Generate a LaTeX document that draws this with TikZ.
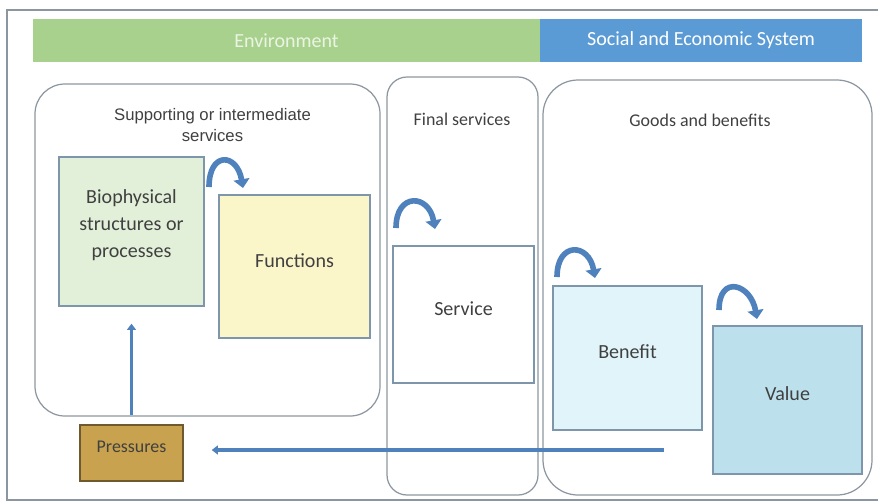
\documentclass[tikz,border=0pt]{standalone}
\usepackage{fontspec}
\setmainfont{Carlito}
\newfontfamily\arialfont{Liberation Sans}
\usetikzlibrary{arrows.meta}

\definecolor{envgreen}{HTML}{A9D18E}
\definecolor{envtext}{HTML}{EAF4E2}
\definecolor{socblue}{HTML}{5B9BD5}
\definecolor{arrowblue}{HTML}{4F81BD}
\definecolor{frameline}{HTML}{8C96A0}
\definecolor{boxedge}{HTML}{7E96AB}
\definecolor{txt}{HTML}{404040}
\definecolor{biofill}{HTML}{E2EFD9}
\definecolor{funfill}{HTML}{FBF5CA}
\definecolor{benfill}{HTML}{E1F4F9}
\definecolor{valfill}{HTML}{BDE1EC}
\definecolor{pressfill}{HTML}{C8A24E}
\definecolor{pressedge}{HTML}{6E5A2E}

\newcommand{\boxfont}{\fontsize{11.4}{15.4}\selectfont}
\newcommand{\headfont}{\fontsize{10.2}{12}\selectfont}

\begin{document}
\begin{tikzpicture}[
  band/.style={minimum height=0.86cm, inner sep=0pt, font=\boxfont},
  group/.style={draw=frameline, line width=0.7pt, inner sep=0pt},
  sq/.style={draw=boxedge, line width=0.8pt, inner sep=0pt},
  boxtxt/.style={font=\boxfont, text=txt, align=center, yshift=0.12cm},
  head/.style={font=\headfont, text=txt, align=center},
  curv/.style={arrowblue, line width=3.2pt,
               -{Triangle[width=9pt,length=5pt]}},
  flow/.style={arrowblue, line width=2.2pt,
               -{Triangle[width=5pt,length=3.5pt]}}
]
\useasboundingbox (0,0) rectangle (17.56,10.06);
\draw[frameline, line width=0.8pt]
  (17.7,9.86) -- (0.14,9.86) -- (0.14,0.06) -- (17.7,0.06);

% top band
\node[band, fill=envgreen, minimum width=10.14cm, text=envtext]
  (env) at (5.73,9.25) {Environment};
\node[band, fill=socblue, minimum width=6.44cm, text=white]
  (soc) at (14.02,9.25) {Social and Economic System};

% groups
\node[group, rounded corners=0.6cm, minimum width=6.9cm, minimum height=6.64cm]
  (support) at (4.15,5.06) {};
\node[group, rounded corners=0.4cm, minimum width=3.02cm, minimum height=8.36cm]
  (final) at (9.25,4.34) {};
\node[group, rounded corners=0.7cm, minimum width=6.58cm, minimum height=8.3cm]
  (goods) at (14.15,4.31) {};
\node[font=\arialfont\fontsize{9.5}{11.95}\selectfont, text=txt, align=center]
  at (4.25,7.56) {Supporting or intermediate\\services};
\node[head] at (9.24,7.68) {Final services};
\node[head] at (14.0,7.66) {Goods and benefits};

% boxes
\node[sq, fill=biofill, minimum width=2.9cm, minimum height=2.98cm,
      label={[boxtxt]center:Biophysical\\structures or\\processes}]
  (bio) at (2.63,5.43) {};
\node[sq, fill=funfill, minimum width=3.02cm, minimum height=2.86cm,
      label={[boxtxt]center:Functions}]
  (fun) at (5.89,4.73) {};
\node[sq, fill=white, minimum width=2.82cm, minimum height=2.74cm,
      label={[boxtxt]center:Service}]
  (serv) at (9.27,3.77) {};
\node[sq, fill=benfill, minimum width=2.98cm, minimum height=2.88cm,
      label={[boxtxt]center:Benefit}]
  (ben) at (12.55,2.9) {};
\node[sq, fill=valfill, minimum width=2.98cm, minimum height=2.96cm,
      label={[boxtxt]center:Value}]
  (val) at (15.75,2.06) {};
\node[sq, draw=pressedge, fill=pressfill, minimum width=2.06cm, minimum height=1.12cm,
      label={[boxtxt, font=\headfont]center:Pressures}]
  (press) at (2.63,1.0) {};

% curved steps
\coordinate (t1) at (4.18,6.32);  \coordinate (h1) at (4.86,6.30);
\coordinate (t2) at (7.92,5.50);  \coordinate (h2) at (8.70,5.48);
\coordinate (t3) at (11.14,4.52); \coordinate (h3) at (11.90,4.50);
\coordinate (t4) at (14.38,3.86); \coordinate (h4) at (15.14,3.68);
\foreach \t/\h in {t1/h1, t2/h2, t3/h3, t4/h4}
  \draw[curv] (\t) .. controls +(0,0.72) and +(-0.12,0.7) .. (\h);

% feedback
\coordinate (back) at (13.28,1.06);
\draw[flow] (back) -- (back -| press.east) [shorten >=0.56cm];
\draw[flow, shorten <=0.18cm, shorten >=0.34cm] (press) -- (bio);
\end{tikzpicture}
\end{document}
